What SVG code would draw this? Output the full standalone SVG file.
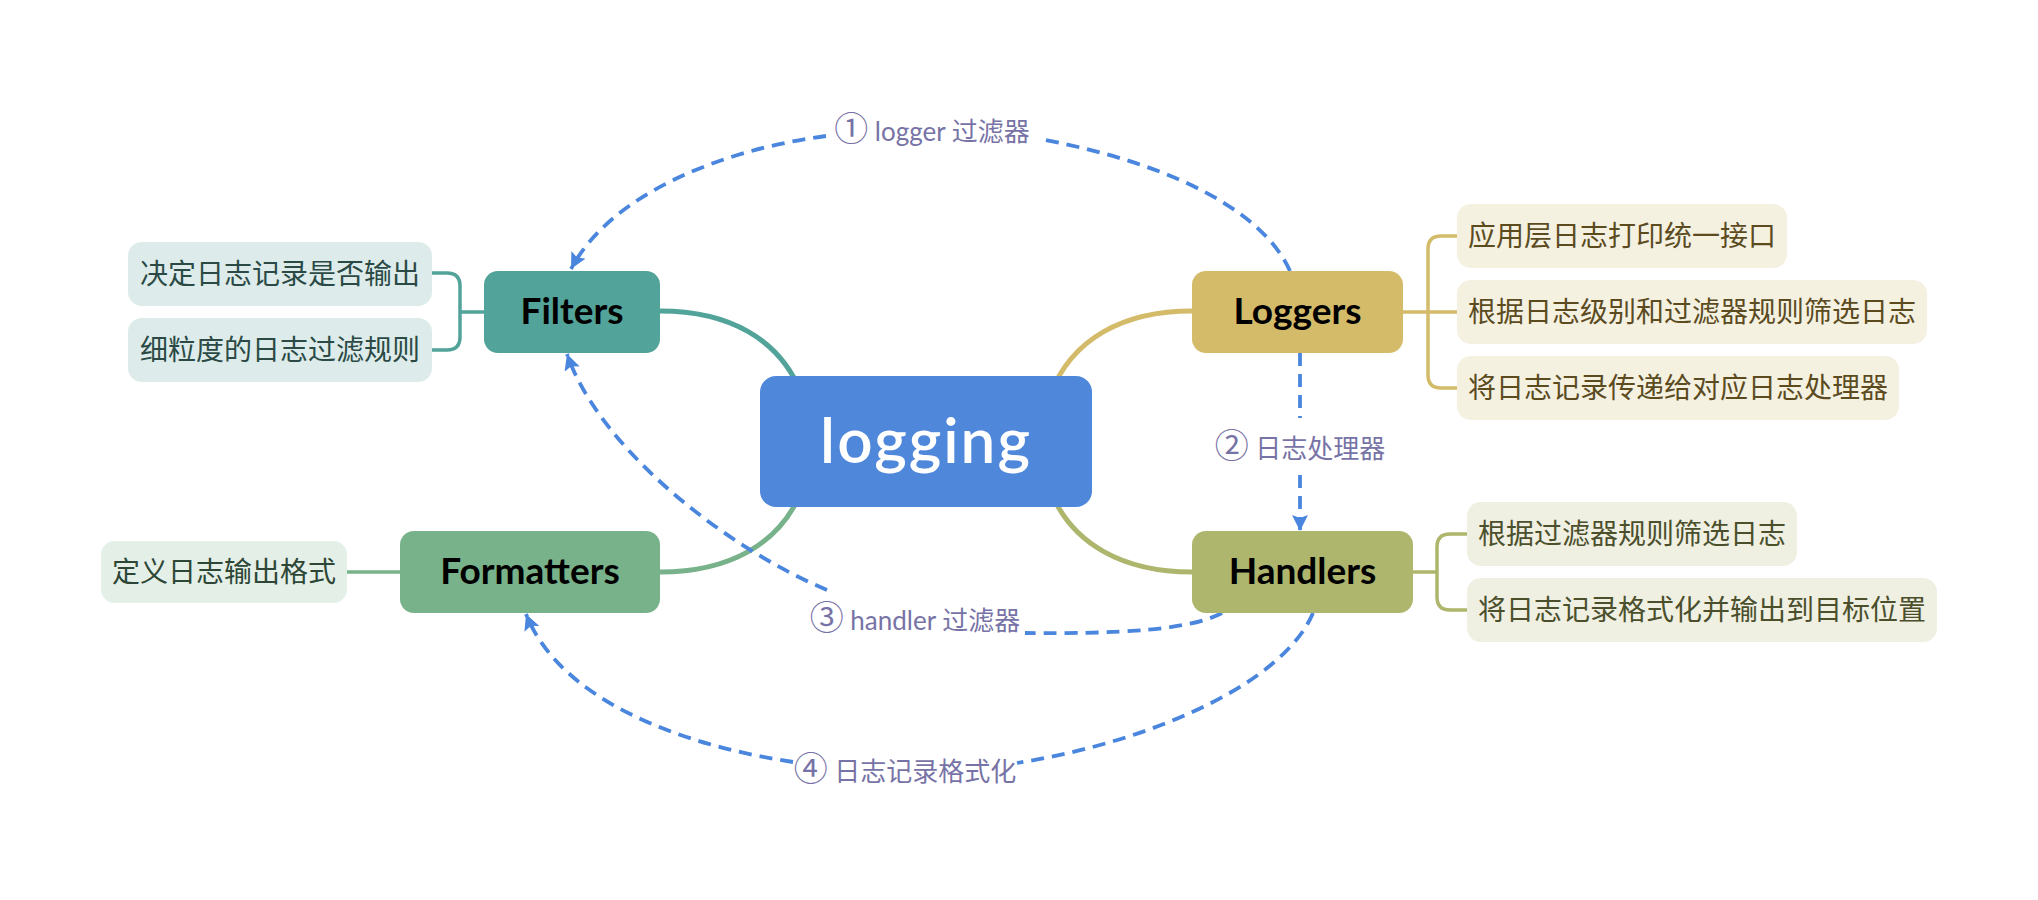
<svg xmlns="http://www.w3.org/2000/svg" width="2038" height="900" viewBox="0 0 2038 900">
  <defs>
    <style>
      .leaf text { font-family: "Noto Sans CJK SC", "Noto Sans", sans-serif; font-size: 28px; text-anchor: middle; }
      .main text { font-family: Lato, "Noto Sans", sans-serif; font-size: 37px; font-weight: bold; fill: #000; text-anchor: middle; }
      .lbl { font-family: Lato, "Noto Sans CJK SC", sans-serif; font-size: 26px; fill: #7773a6; text-anchor: middle; }
      .num { font-family: "Noto Sans CJK SC", sans-serif; font-size: 34px; }
      .dash { fill: none; stroke: #4a86dd; stroke-width: 3.8; stroke-dasharray: 13 8; }
      .link { fill: none; stroke-width: 5; }
      .brk { fill: none; stroke-width: 3.5; }
    </style>
    <marker id="arr" markerUnits="userSpaceOnUse" markerWidth="18" markerHeight="16" refX="16" refY="8" orient="auto">
      <path d="M0,0 L16,8 L0,16 L3,8 z" fill="#4a86dd"/>
    </marker>
  </defs>
  <rect width="2038" height="900" fill="#ffffff"/>

  <g id="connectors">
    <!-- main branches -->
    <path class="link" stroke="#52a399" d="M 660 311 C 728 311 780 338 802 395"/>
    <path class="link" stroke="#78b28a" d="M 660 572 C 728 572 780 545 802 490"/>
    <path class="link" stroke="#d4bb6a" d="M 1192 311 C 1124 311 1072 338 1050 395"/>
    <path class="link" stroke="#aeb56c" d="M 1192 572 C 1124 572 1072 545 1050 490"/>
    <!-- brackets to leaves -->
    <path class="brk" stroke="#52a399" d="M 432 273 H 447 Q 460 273 460 286 V 337 Q 460 350 447 350 H 432 M 460 312 H 484"/>
    <path class="brk" stroke="#78b28a" d="M 347 572 H 400"/>
    <path class="brk" stroke="#d4bb6a" d="M 1457 236 H 1441 Q 1428 236 1428 249 V 375 Q 1428 388 1441 388 H 1457 M 1403 312 H 1457"/>
    <path class="brk" stroke="#aeb56c" d="M 1467 534 H 1450 Q 1437 534 1437 547 V 597 Q 1437 610 1450 610 H 1467 M 1413 572 H 1437"/>
    <!-- dashed relations -->
    <path class="dash" d="M 1290 271 C 1265 215 1180 165 1040 139"/>
    <path class="dash" marker-end="url(#arr)" d="M 826 136 C 720 150 610 195 571 269"/>
    <path class="dash" d="M 1300 353 V 418"/>
    <path class="dash" marker-end="url(#arr)" d="M 1300 475 V 531"/>
    <path class="dash" d="M 1222 613 C 1190 630 1120 634 1025 633"/>
    <path class="dash" marker-end="url(#arr)" d="M 827 590 C 720 545 598 445 567 354"/>
    <path class="dash" d="M 1313 613 C 1285 680 1160 740 1017 763"/>
    <path class="dash" marker-end="url(#arr)" d="M 793 762 C 680 745 560 700 526 614"/>
    <text class="lbl" x="932" y="141"><tspan class="num">①</tspan> logger 过滤器</text>
    <text class="lbl" x="1300" y="458"><tspan class="num">②</tspan> 日志处理器</text>
    <text class="lbl" x="915" y="630"><tspan class="num">③</tspan> handler 过滤器</text>
    <text class="lbl" x="905" y="781"><tspan class="num">④</tspan> 日志记录格式化</text>
  </g>

  <g id="node-logging">
    <rect x="760" y="376" width="332" height="131" rx="16" fill="#4f87db"/>
    <text x="926" y="463" font-family="Lato, 'Noto Sans', sans-serif" font-size="62" font-weight="600" letter-spacing="2" fill="#ffffff" text-anchor="middle">logging</text>
  </g>

  <g id="node-filters" class="main">
    <rect x="484" y="271" width="176" height="82" rx="14" fill="#52a399"/>
    <text x="572" y="324">Filters</text>
  </g>
  <g id="node-loggers" class="main">
    <rect x="1192" y="271" width="211" height="82" rx="14" fill="#d4bb6a"/>
    <text x="1297.5" y="324">Loggers</text>
  </g>
  <g id="node-formatters" class="main">
    <rect x="400" y="531" width="260" height="82" rx="14" fill="#78b28a"/>
    <text x="530" y="584">Formatters</text>
  </g>
  <g id="node-handlers" class="main">
    <rect x="1192" y="531" width="221" height="82" rx="14" fill="#aeb56c"/>
    <text x="1302.5" y="584">Handlers</text>
  </g>

  <g id="leaf-filters-1" class="leaf">
    <rect x="128" y="242" width="304" height="64" rx="14" fill="#ddeceb"/>
    <text x="280" y="284" fill="#2b4a45">决定日志记录是否输出</text>
  </g>
  <g id="leaf-filters-2" class="leaf">
    <rect x="128" y="318" width="304" height="64" rx="14" fill="#ddeceb"/>
    <text x="280" y="360" fill="#2b4a45">细粒度的日志过滤规则</text>
  </g>
  <g id="leaf-formatters-1" class="leaf">
    <rect x="101" y="541" width="246" height="62" rx="14" fill="#e4efe7"/>
    <text x="224" y="582" fill="#2d4636">定义日志输出格式</text>
  </g>
  <g id="leaf-loggers-1" class="leaf">
    <rect x="1457" y="204" width="330" height="64" rx="14" fill="#f5f1e1"/>
    <text x="1622" y="246" fill="#5b4b1f">应用层日志打印统一接口</text>
  </g>
  <g id="leaf-loggers-2" class="leaf">
    <rect x="1457" y="280" width="470" height="64" rx="14" fill="#f5f1e1"/>
    <text x="1692" y="322" fill="#5b4b1f">根据日志级别和过滤器规则筛选日志</text>
  </g>
  <g id="leaf-loggers-3" class="leaf">
    <rect x="1457" y="356" width="442" height="64" rx="14" fill="#f5f1e1"/>
    <text x="1678" y="398" fill="#5b4b1f">将日志记录传递给对应日志处理器</text>
  </g>
  <g id="leaf-handlers-1" class="leaf">
    <rect x="1467" y="502" width="330" height="64" rx="14" fill="#eff0e2"/>
    <text x="1632" y="544" fill="#4b4f2c">根据过滤器规则筛选日志</text>
  </g>
  <g id="leaf-handlers-2" class="leaf">
    <rect x="1467" y="578" width="470" height="64" rx="14" fill="#eff0e2"/>
    <text x="1702" y="620" fill="#4b4f2c">将日志记录格式化并输出到目标位置</text>
  </g>
</svg>
